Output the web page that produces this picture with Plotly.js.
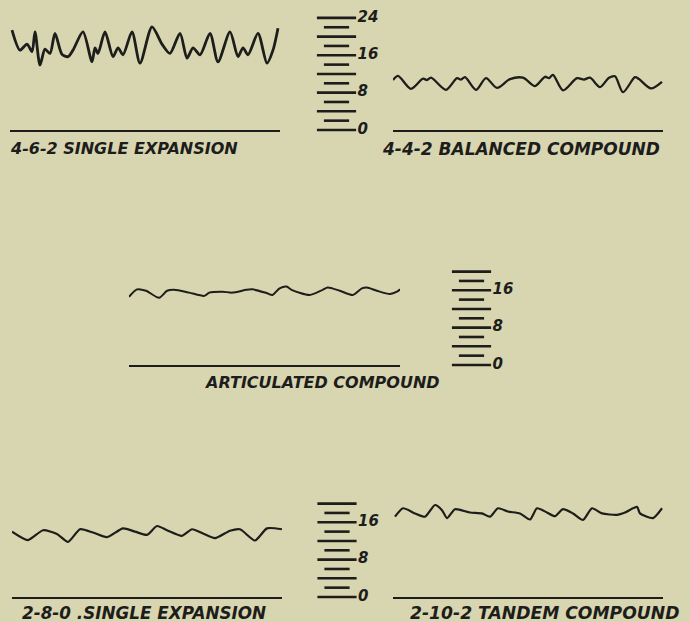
<!DOCTYPE html>
<html><head><meta charset="utf-8">
<script src="https://cdn.plot.ly/plotly-3.0.1.min.js"></script>
<style>html,body{margin:0;padding:0;background:#d8d6b1;}</style>
</head><body><div id="chart" style="width:690px;height:622px;"></div>
<script>
// ---------- data (values in the scale units shown on the rulers) ----------
const panelTitles = ["4-6-2 SINGLE EXPANSION", "4-4-2 BALANCED COMPOUND", "ARTICULATED COMPOUND", "2-8-0 .SINGLE EXPANSION", "2-10-2 TANDEM COMPOUND"];

const x462 = [2,10,17,22,25,30,35,40,45,52,58,63,73,82,85,88,95,103,108,113,122,130,142,152,160,170,177,183,190,200,208,220,228,233,238,248,257,263,268];
const y462 = [21.4,17.1,18.4,16.8,21.0,13.9,17.3,16.4,20.7,16.2,15.7,17.1,21.0,14.6,17.6,16.4,21.0,15.7,17.6,16.1,21.0,14.3,22.1,18.4,16.4,20.7,15.4,17.6,16.1,20.7,14.6,21.0,15.7,17.6,16.1,20.7,14.3,17.1,21.8];

const x442 = [0,5,18,30,34,38,53,64,68,72,83,93,104,117,130,142,152,156,160,170,184,191,197,207,216,222,230,242,246,258,269];
const y442 = [10.7,11.6,8.8,11.0,10.7,11.2,8.6,11.1,10.8,11.3,8.6,11.1,9.0,10.9,11.2,9.4,11.4,11.1,11.8,8.5,11.1,10.8,11.2,9.2,11.2,11.5,8.1,11.3,10.9,8.9,10.3];

const xArt = [0,8,17,30,38,45,60,75,80,93,103,117,123,137,143,150,157,162,180,193,198,210,223,232,237,247,260,267,270];
const yArt = [14.6,16.2,15.9,14.4,15.9,16.1,15.5,14.8,15.5,15.7,15.5,16.1,16.2,15.4,15.0,16.4,16.8,16.1,15.0,16.1,16.6,15.9,15.0,16.4,16.6,15.9,15.2,15.7,16.2];

const x280 = [0,16,31,45,56,68,81,95,111,123,135,145,155,170,180,191,203,218,228,243,255,270];
const y280 = [14.0,12.2,14.3,13.5,11.8,14.5,13.8,12.8,14.7,14.0,13.3,15.2,14.3,13.1,14.5,13.6,12.6,14.2,14.5,12.1,14.7,14.5];

const x2102 = [2,10,22,32,42,49,54,62,77,89,97,105,115,127,137,144,154,162,170,180,190,199,209,224,232,244,247,260,269];
const y2102 = [17.2,19.0,17.9,17.2,19.7,18.6,16.9,18.8,18.1,17.9,17.2,19.0,18.3,17.9,16.6,19.0,18.1,17.3,18.8,17.9,16.5,19.0,17.9,17.6,18.1,19.3,17.9,16.9,19.0];

const scale24Ticks = [0,2,4,6,8,10,12,14,16,18,20,22,24];
const scale24Labels = [0,8,16,24];
const scale20Ticks = [0,2,4,6,8,10,12,14,16,18,20];
const scale20Labels = [0,8,16];

// ---------- layout helpers (pixel geometry) ----------
const W = 690, H = 622, PX = 4.67;
const INK = '#1d1d1b';
const BG = '#d8d6b1';
const xd = (a, b) => [a / W, b / W];
const yd = (top, bottom) => [1 - bottom / H, 1 - top / H];
const FONT = {family: 'DejaVu Sans', color: INK, style: 'italic', weight: 'bold'};

function curve(x, y, xa, ya, w, sm) {
  return {x: x, y: y, xaxis: xa, yaxis: ya, type: 'scatter', mode: 'lines',
    line: {color: INK, width: w, shape: 'spline', smoothing: sm}, cliponaxis: false, hoverinfo: 'skip'};
}
function ruler(ticks, xa, ya) {
  return {x: ticks.map(() => 0), y: ticks, xaxis: xa, yaxis: ya, type: 'scatter', mode: 'markers',
    marker: {symbol: 'line-ew', color: INK, opacity: 1, size: ticks.map(v => v % 4 === 0 ? 28 : 18),
      line: {color: INK, width: 2.6}}, cliponaxis: false, hoverinfo: 'skip'};
}
function rulerText(vals, xa, ya) {
  return {x: vals.map(() => 1.45), y: vals, text: vals.map(String), xaxis: xa, yaxis: ya,
    type: 'scatter', mode: 'text', textposition: 'middle right',
    textfont: Object.assign({size: 15}, FONT), cliponaxis: false, hoverinfo: 'skip'};
}

const data = [
  curve(x462, y462, 'x', 'y', 2.8, 0.75),
  curve(x442, y442, 'x2', 'y', 2.3, 0.8),
  curve(xArt, yArt, 'x3', 'y2', 2, 0.7),
  curve(x280, y280, 'x4', 'y3', 2.2, 0.6),
  curve(x2102, y2102, 'x5', 'y3', 2.2, 0.6),
  ruler(scale24Ticks, 'x6', 'y'),
  ruler(scale20Ticks, 'x7', 'y2'),
  ruler(scale20Ticks, 'x8', 'y3'),
  rulerText(scale24Labels, 'x6', 'y'),
  rulerText(scale20Labels, 'x7', 'y2'),
  rulerText(scale20Labels, 'x8', 'y3')
];

function panelX(dom, ya) {
  return {domain: dom, anchor: ya, range: [0, 270], showline: true, linecolor: INK, linewidth: 2,
    ticks: '', showticklabels: false, showgrid: false, zeroline: false, fixedrange: true};
}
// ruler axis: x=0 is the ruler centre, 1 unit = ~14.5 px, room on the right for labels
function rulerX(center, ya) {
  return {domain: xd(center - 14.5, center + 43.5), range: [-1, 3], visible: false, fixedrange: true, anchor: ya};
}
function rowY(top, base, xa) {
  return {domain: yd(top, base), range: [0, (base - top) / PX], visible: false, anchor: xa, fixedrange: true};
}

const labelPos = [[124, 149], [521, 149], [322, 382], [144, 613], [544, 613]];
const labelSize = [16, 17, 16, 16.8, 17.2];
const annotations = panelTitles.map((t, i) => ({
  text: t, xref: 'paper', yref: 'paper', x: labelPos[i][0] / W, y: 1 - labelPos[i][1] / H,
  xanchor: 'center', yanchor: 'middle', showarrow: false,
  font: Object.assign({size: labelSize[i]}, FONT)
}));

const layout = {
  width: W, height: H, margin: {l: 0, r: 0, t: 0, b: 0},
  paper_bgcolor: BG, plot_bgcolor: 'rgba(0,0,0,0)', showlegend: false,
  xaxis: panelX(xd(10, 280), 'y'),
  xaxis2: panelX(xd(393, 663), 'y'),
  xaxis3: panelX(xd(129, 400), 'y2'),
  xaxis4: panelX(xd(12, 282), 'y3'),
  xaxis5: panelX(xd(393, 663), 'y3'),
  xaxis6: rulerX(336.5, 'y'),
  xaxis7: rulerX(471.5, 'y2'),
  xaxis8: rulerX(337, 'y3'),
  yaxis: rowY(0, 130, 'x'),
  yaxis2: rowY(240, 365, 'x3'),
  yaxis3: rowY(475, 597, 'x4'),
  annotations: annotations
};

Plotly.newPlot('chart', data, layout, {staticPlot: true, displayModeBar: false});
</script></body></html>
